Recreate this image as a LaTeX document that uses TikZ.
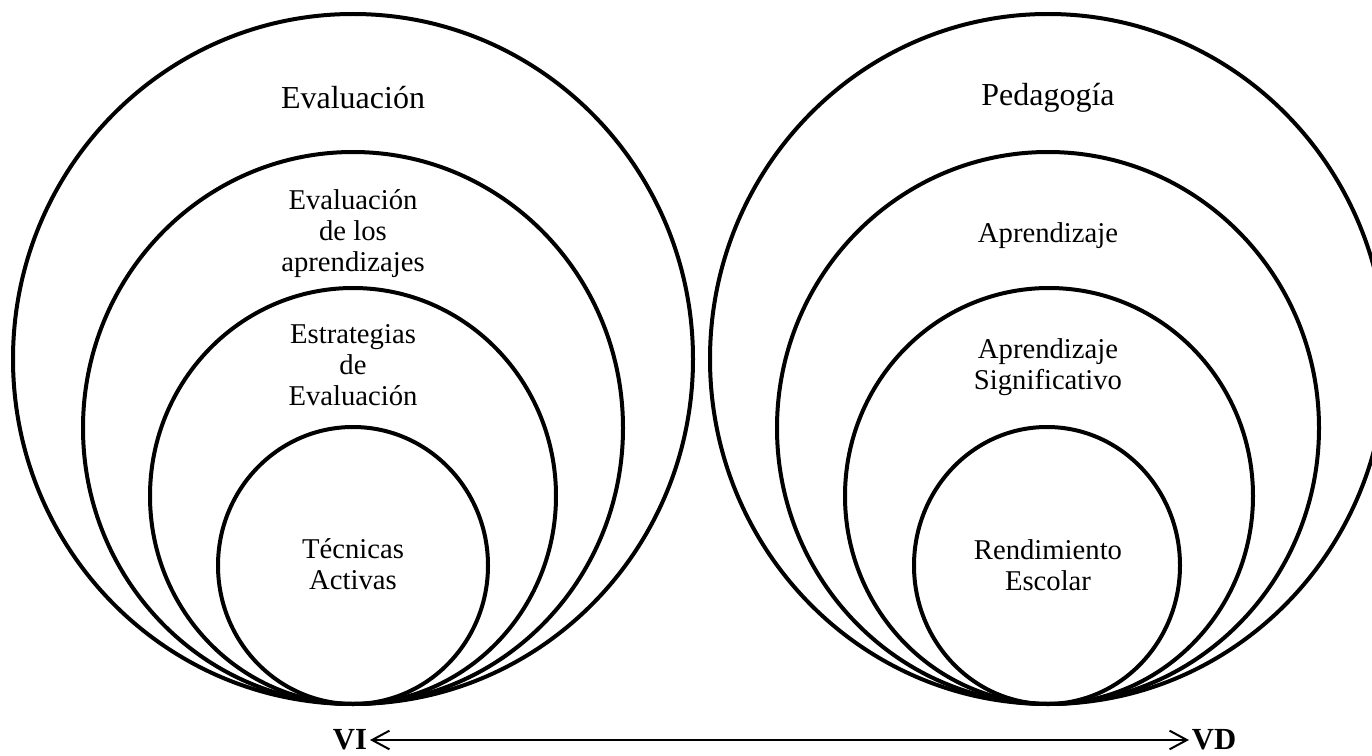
\documentclass[tikz,border=0pt]{standalone}
\usepackage{fontspec}
\setmainfont{Liberation Serif}
\usetikzlibrary{arrows.meta}

\begin{document}
\begin{tikzpicture}[x=0.75pt,y=-0.75pt,
        ring/.style={line width=3pt},
        lbl/.style={align=center,font=\fontsize{21.5}{23.3}\selectfont},
        toplbl/.style={lbl,font=\fontsize{24}{27}\selectfont},
        var/.style={font=\fontsize{23}{26}\selectfont\bfseries,inner sep=2pt}]
        \useasboundingbox (0,0) rectangle (1372,756);

        % independent variable
        \draw[ring] (353,359) ellipse [x radius=340,y radius=345];
        \draw[ring] (353,428) ellipse [x radius=270,y radius=276];
        \draw[ring] (353,496) ellipse [x radius=203,y radius=208];
        \draw[ring] (353,565.5) ellipse [x radius=135,y radius=138.5];
        \node[toplbl] (eval) at (353,98) {Evaluación};
        \node[lbl] (evalap) at (353,234) {Evaluación\\de los\\aprendizajes};
        \node[lbl] (estr) at (353,365) {Estrategias\\de\\Evaluación};
        \node[lbl] (tec) at (353,564) {Técnicas\\Activas};

        % dependent variable
        \draw[ring] (1048,359) ellipse [x radius=338,y radius=345];
        \draw[ring] (1048,428) ellipse [x radius=271,y radius=276];
        \draw[ring] (1049,496) ellipse [x radius=204,y radius=208];
        \draw[ring] (1047,565.5) ellipse [x radius=133,y radius=138.5];
        \node[toplbl] (ped) at (1048,98) {Pedagogía};
        \node[lbl] (apr) at (1048,236) {Aprendizaje};
        \node[lbl] (aprsig) at (1048,367) {Aprendizaje\\Significativo};
        \node[lbl] (rend) at (1048,565) {Rendimiento\\Escolar};

        \node[var,anchor=east] (VI) at (370,740) {VI};
        \node[var,anchor=west] (VD) at (1189,740) {VD};
        \draw[line width=1.5pt,{Straight Barb[length=13pt,width=14pt]}-{Straight Barb[length=13pt,width=14pt]}] (VI) -- (VD);
      \end{tikzpicture}
\end{document}
